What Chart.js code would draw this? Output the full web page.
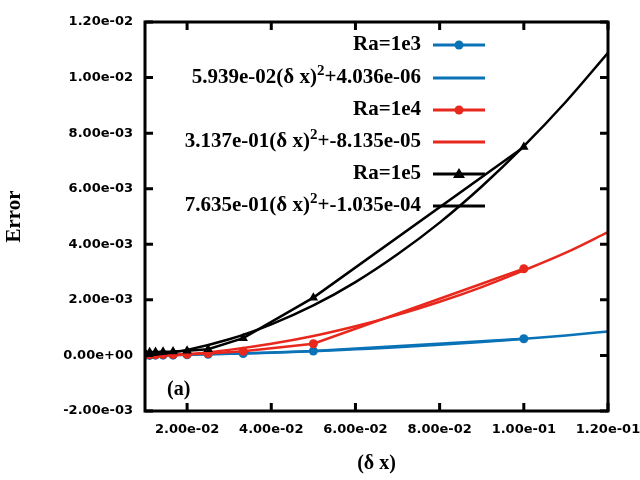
<!DOCTYPE html>
<html lang="en">
<head>
<meta charset="UTF-8">
<title>Error vs grid spacing</title>
<script src="https://cdn.jsdelivr.net/npm/chart.js"></script>
<style>
  html, body { margin: 0; padding: 0; background: #fff; }
  #wrap { width: 640px; height: 480px; }
</style>
</head>
<body>
<div id="wrap"><canvas id="errChart" width="640" height="480"></canvas></div>
<script>
// grid spacing of the runs (N = 10 ... 100)
const dx = [0.1, 0.05, 0.03333, 0.025, 0.02, 0.01667, 0.01429, 0.0125, 0.01111, 0.01];
const errRa1e3 = [0.0006, 0.00016, 0.00007, 0.00004, 0.00002, 0.00001, 0.00001, 0.00001, 0.0, 0.0];
const errRa1e4 = [0.00312, 0.00042, 0.00015, 0.00007, 0.00004, 0.00003, 0.00003, 0.00002, 0.00002, 0.00002];
const errRa1e5 = [0.0075, 0.00208, 0.00062, 0.00022, 0.00017, 0.00014, 0.00013, 0.00012, 0.00011, 0.0001];

// fitted curves
const fitX = [0.01, 0.02, 0.03, 0.04, 0.05, 0.06, 0.07, 0.08, 0.09, 0.10, 0.11, 0.12];
const fitRa1e3 = [0.00001, 0.00003, 0.00006, 0.0001, 0.00015, 0.00022, 0.00029, 0.00038, 0.00048, 0.0006, 0.00072, 0.00086];
const fitRa1e4 = [-0.00005, 0.00004, 0.0002, 0.00042, 0.0007, 0.00105, 0.00146, 0.00193, 0.00246, 0.00306, 0.0037, 0.00444];
const fitRa1e5 = [-0.00003, 0.0002, 0.00058, 0.00112, 0.0018, 0.00264, 0.00364, 0.00478, 0.00608, 0.00753, 0.00913, 0.01089];

const xTicks = [0.02, 0.04, 0.06, 0.08, 0.10, 0.12];
const yTicks = [-0.002, 0, 0.002, 0.004, 0.006, 0.008, 0.010, 0.012];

// legend rows: [before superscript, superscript, after]
const legendRows = [
    ['Ra=1e3', '', ''],
    ['5.939e-02(δ x)', '2', '+4.036e-06'],
    ['Ra=1e4', '', ''],
    ['3.137e-01(δ x)', '2', '+-8.135e-05'],
    ['Ra=1e5', '', ''],
    ['7.635e-01(δ x)', '2', '+-1.035e-04']
];

const BLUE = '#0a72b6';
const RED = '#e8281c';
const BLACK = '#000000';
const legendStyle = [
    { color: BLUE, marker: 'circle' },
    { color: BLUE, marker: null },
    { color: RED, marker: 'circle' },
    { color: RED, marker: null },
    { color: BLACK, marker: 'triangle' },
    { color: BLACK, marker: null }
];

function sci(v) {
    return Number(v).toExponential(2).replace(/e([+-])(\d)$/, 'e$10$2');
}

function pts(xs, ys) {
    return xs.map((x, i) => ({ x: x, y: ys[i] }));
}

const serif = 'Liberation Serif';
const sans = 'DejaVu Sans';

// frame with inward ticks on all four sides, plus the (a) tag
const framePlugin = {
    id: 'frame',
    afterDatasetsDraw(chart) {
        const ctx = chart.ctx;
        const a = chart.chartArea;
        const sx = chart.scales.x, sy = chart.scales.y;
        const tl = 8;
        ctx.save();
        ctx.strokeStyle = '#000';
        ctx.lineWidth = 3;
        ctx.beginPath();
        xTicks.forEach(v => {
            const px = sx.getPixelForValue(v);
            ctx.moveTo(px, a.bottom); ctx.lineTo(px, a.bottom - tl);
            ctx.moveTo(px, a.top); ctx.lineTo(px, a.top + tl);
        });
        yTicks.forEach(v => {
            const py = sy.getPixelForValue(v);
            ctx.moveTo(a.left, py); ctx.lineTo(a.left + tl, py);
            ctx.moveTo(a.right, py); ctx.lineTo(a.right - tl, py);
        });
        ctx.stroke();
        ctx.strokeRect(a.left, a.top, a.right - a.left, a.bottom - a.top);

        ctx.fillStyle = '#000';
        ctx.font = 'bold 20px "' + serif + '"';
        ctx.textBaseline = 'middle';
        ctx.textAlign = 'left';
        ctx.fillText('(a)', 167, 390);
        ctx.restore();
    }
};

// key drawn inside the plot, text right-aligned next to the samples
const keyPlugin = {
    id: 'key',
    beforeDatasetsDraw(chart) {
        const ctx = chart.ctx;
        const rowY = [45, 78, 110, 142, 174, 206];
        const textRight = 421;
        const lineX0 = 433, lineX1 = 485;
        ctx.save();
        ctx.textBaseline = 'middle';
        ctx.textAlign = 'left';
        ctx.fillStyle = '#000';
        legendRows.forEach((row, i) => {
            const y = rowY[i];
            const big = 'bold 21px "' + serif + '"';
            const small = 'bold 15px "' + serif + '"';
            ctx.font = big;
            const w0 = ctx.measureText(row[0]).width;
            const w2 = ctx.measureText(row[2]).width;
            ctx.font = small;
            const w1 = row[1] ? ctx.measureText(row[1]).width : 0;
            let x = textRight - (w0 + w1 + w2);
            ctx.font = big;
            ctx.fillText(row[0], x, y);
            x += w0;
            if (row[1]) {
                ctx.font = small;
                ctx.fillText(row[1], x, y - 7);
                x += w1;
            }
            ctx.font = big;
            ctx.fillText(row[2], x, y);

            const st = legendStyle[i];
            ctx.strokeStyle = st.color;
            ctx.fillStyle = st.color;
            ctx.lineWidth = 3;
            ctx.beginPath();
            ctx.moveTo(lineX0, y);
            ctx.lineTo(lineX1, y);
            ctx.stroke();
            const mx = (lineX0 + lineX1) / 2;
            if (st.marker === 'circle') {
                ctx.beginPath();
                ctx.arc(mx, y, 4.5, 0, Math.PI * 2);
                ctx.fill();
            } else if (st.marker === 'triangle') {
                ctx.beginPath();
                ctx.moveTo(mx, y - 6);
                ctx.lineTo(mx + 6, y + 4);
                ctx.lineTo(mx - 6, y + 4);
                ctx.closePath();
                ctx.fill();
            }
            ctx.fillStyle = '#000';
        });
        ctx.restore();
    }
};

function dataSet(label, data, color, style, order) {
    return {
        label: label, data: data, order: order,
        borderColor: color, backgroundColor: color,
        borderWidth: 2.5, pointStyle: style, pointRadius: style === 'triangle' ? 5.5 : 4.5,
        pointBorderWidth: 0, tension: 0
    };
}

function fitSet(label, data, color, order) {
    return {
        label: label, data: data, order: order,
        borderColor: color, backgroundColor: color,
        borderWidth: 2.5, pointRadius: 0, cubicInterpolationMode: 'monotone'
    };
}

const tickFont = { family: sans, weight: 'bold', size: 13 };

new Chart(document.getElementById('errChart').getContext('2d'), {
    type: 'line',
    data: {
        datasets: [
            dataSet('Ra=1e3', pts(dx, errRa1e3), BLUE, 'circle', 5),
            fitSet('fit Ra=1e3', pts(fitX, fitRa1e3), BLUE, 4),
            dataSet('Ra=1e4', pts(dx, errRa1e4), RED, 'circle', 3),
            fitSet('fit Ra=1e4', pts(fitX, fitRa1e4), RED, 2),
            dataSet('Ra=1e5', pts(dx, errRa1e5), BLACK, 'triangle', 1),
            fitSet('fit Ra=1e5', pts(fitX, fitRa1e5), BLACK, 0)
        ]
    },
    options: {
        responsive: false,
        animation: false,
        layout: { padding: { top: 22, right: 32, left: 0, bottom: 0 } },
        plugins: { legend: { display: false }, tooltip: { enabled: false } },
        scales: {
            x: {
                type: 'linear', min: 0.01, max: 0.12,
                afterBuildTicks: s => { s.ticks = xTicks.map(v => ({ value: v })); },
                afterFit: s => { s.height = 69; s.paddingLeft = 0; s.paddingRight = 0; },
                grid: { display: false, drawTicks: false }, border: { display: false },
                ticks: { callback: v => sci(v), font: tickFont, color: '#000', padding: 11, maxRotation: 0, autoSkip: false },
                title: { display: true, text: '(δ x)', color: '#000', font: { family: serif, weight: 'bold', size: 20 }, padding: { top: 0, bottom: 4 } }
            },
            y: {
                type: 'linear', min: -0.002, max: 0.012,
                afterBuildTicks: s => { s.ticks = yTicks.map(v => ({ value: v })); },
                afterFit: s => { s.width = 145; s.paddingTop = 0; s.paddingBottom = 0; },
                grid: { display: false, drawTicks: false }, border: { display: false },
                ticks: { callback: v => sci(v), font: tickFont, color: '#000', padding: 12, autoSkip: false },
                title: { display: true, text: 'Error', color: '#000', font: { family: serif, weight: 'bold', size: 21 }, padding: { top: 2, bottom: 0 } }
            }
        }
    },
    plugins: [keyPlugin, framePlugin]
});
</script>
</body>
</html>
